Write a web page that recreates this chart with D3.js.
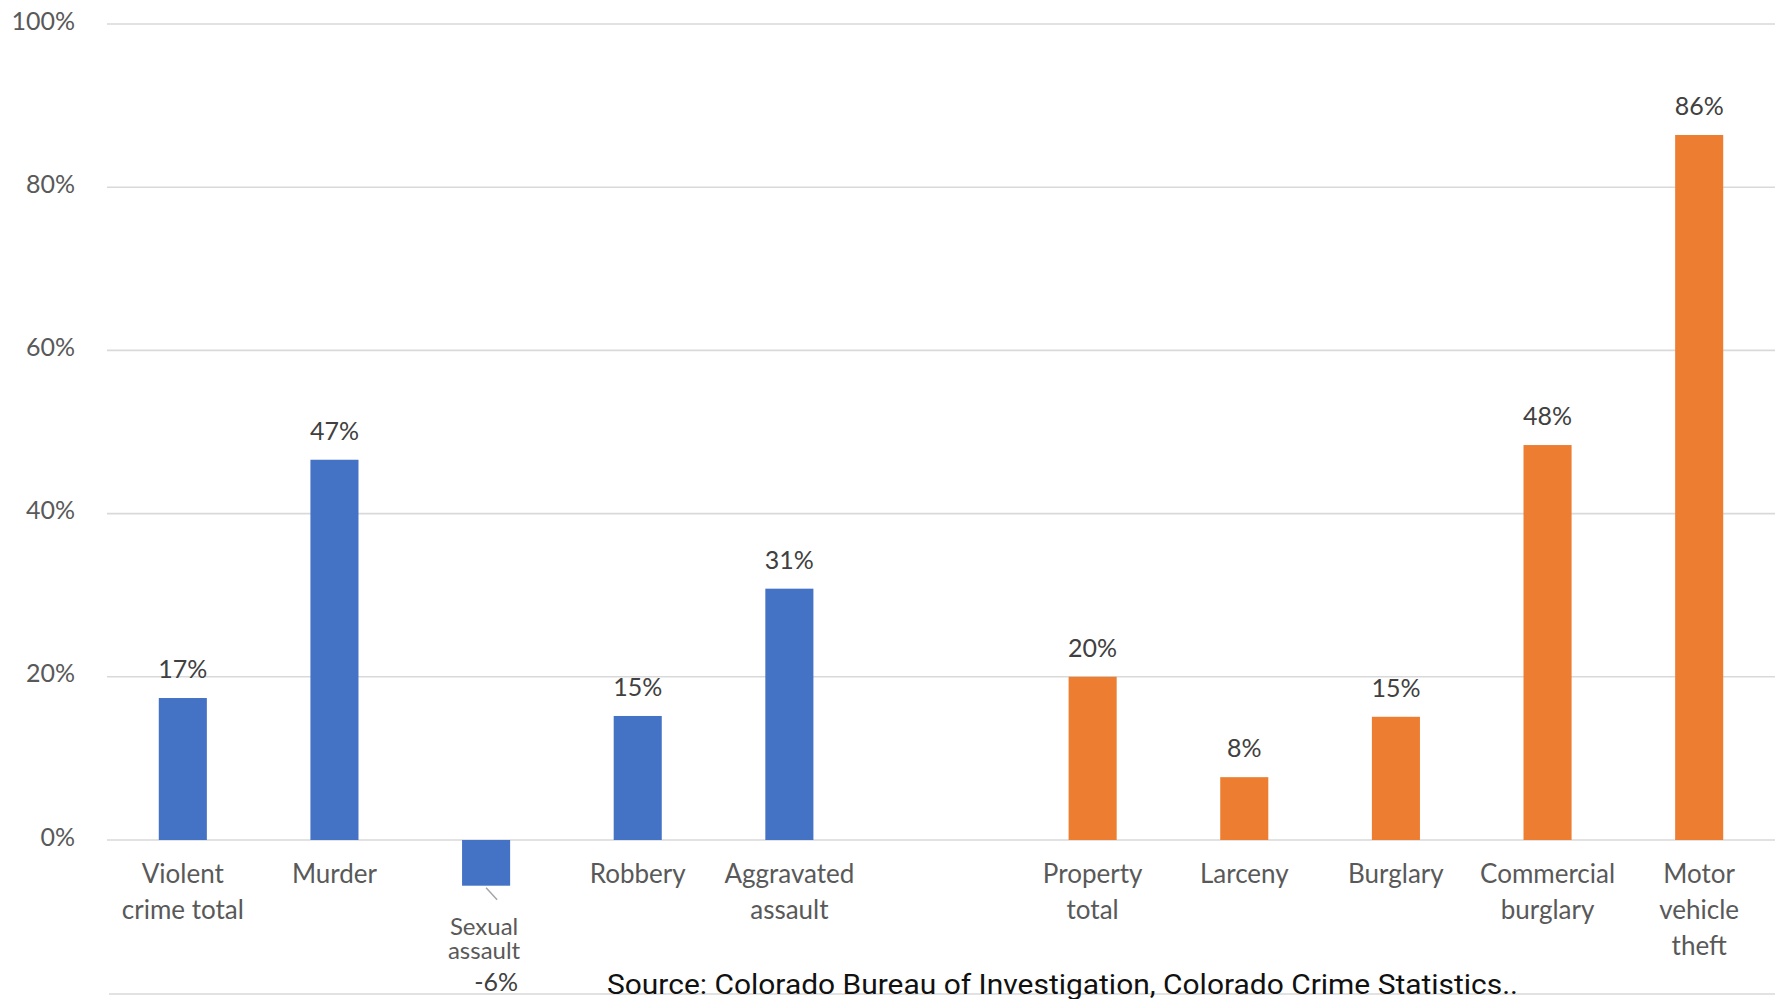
<!DOCTYPE html>
<html>
<head>
<meta charset="utf-8">
<script src="https://cdn.jsdelivr.net/npm/d3@7"></script>
<style>
  body { margin: 0; background: #fff; }
  svg { display: block; font-family: Lato, "Open Sans", sans-serif; }
</style>
</head>
<body>
<svg class="crime-chart" width="1781" height="999"></svg>
<script>
// percent change by offense; the blank slot separates violent and property crime
const categories = ['Violent crime total', 'Murder', 'Sexual assault', 'Robbery', 'Aggravated assault', '',
  'Property total', 'Larceny', 'Burglary', 'Commercial burglary', 'Motor vehicle theft']
const values = [17.4, 46.6, -5.6, 15.2, 30.8, null, 20.0, 7.7, 15.1, 48.4, 86.4]
const groups = ['violent', 'violent', 'violent', 'violent', 'violent', null,
  'property', 'property', 'property', 'property', 'property']
const tickLines = [['Violent', 'crime total'], ['Murder'], [], ['Robbery'], ['Aggravated', 'assault'], [],
  ['Property', 'total'], ['Larceny'], ['Burglary'], ['Commercial', 'burglary'], ['Motor', 'vehicle', 'theft']]
const yTicks = [0, 20, 40, 60, 80, 100]
const sourceText = 'Source: Colorado Bureau of Investigation, Colorado Crime Statistics..'

const colors = { violent: '#4472c4', property: '#ed7d31' }
const data = categories.map((c, i) => ({ cat: c, value: values[i], group: groups[i], lines: tickLines[i] }))

const svg = d3.select('.crime-chart')
const margin = { top: 24, left: 107, right: 6 }
const width = 1781 - margin.left - margin.right
const height = 816

const x = d3.scaleBand()
  .domain(categories)
  .range([0, width])
  .paddingInner(0.683)
  .paddingOuter(0.3415)

const y = d3.scaleLinear()
  .domain([0, 100])
  .range([height, 0])

const g = svg.append('g').attr('transform', 'translate(' + margin.left + ',' + margin.top + ')')

// gridlines
g.append('g')
  .selectAll('line')
  .data(yTicks)
  .join('line')
  .attr('x1', 0)
  .attr('x2', width)
  .attr('y1', d => y(d))
  .attr('y2', d => y(d))
  .attr('stroke', '#d9d9d9')
  .attr('stroke-width', 1.6)

// y axis labels
const yAxis = g.append('g')
  .call(d3.axisLeft(y).tickValues(yTicks).tickSize(0).tickPadding(32).tickFormat(d => d + '%'))
yAxis.select('.domain').remove()
yAxis.selectAll('text')
  .attr('fill', '#595959')
  .style('font-size', '25px')
  .style('font-family', 'Lato, sans-serif')
  .attr('dy', '0.2em')

// bars
g.append('g')
  .selectAll('rect')
  .data(data.filter(d => d.value !== null))
  .join('rect')
  .attr('x', d => x(d.cat))
  .attr('width', x.bandwidth())
  .attr('y', d => y(Math.max(0, d.value)))
  .attr('height', d => Math.abs(y(d.value) - y(0)))
  .attr('fill', d => colors[d.group])

// data labels above positive bars
g.append('g')
  .selectAll('text')
  .data(data.filter(d => d.value !== null && d.value >= 0))
  .join('text')
  .attr('x', d => x(d.cat) + x.bandwidth() / 2)
  .attr('y', d => y(d.value) - 20)
  .attr('text-anchor', 'middle')
  .attr('fill', '#404040')
  .style('font-size', '25px')
  .text(d => Math.round(d.value) + '%')

// the negative bar gets a label moved below with a leader line
const neg = data.filter(d => d.value !== null && d.value < 0)
neg.forEach(d => {
  const cx = x(d.cat) + x.bandwidth() / 2
  const by = y(d.value)
  g.append('line')
    .attr('x1', cx).attr('y1', by + 2)
    .attr('x2', cx + 11).attr('y2', by + 14)
    .attr('stroke', '#a6a6a6')
    .attr('stroke-width', 1.5)
  const words = d.cat.split(' ')
  const t = g.append('text')
    .attr('text-anchor', 'middle')
    .attr('fill', '#595959')
    .style('font-size', '24px')
  words.forEach((w, i) => {
    t.append('tspan').attr('x', cx - 2).attr('y', by + 49 + i * 24).text(w)
  })
  g.append('text')
    .attr('x', cx + 10)
    .attr('y', by + 105)
    .attr('text-anchor', 'middle')
    .attr('fill', '#404040')
    .style('font-size', '25px')
    .text(Math.round(d.value) + '%')
})

// category axis
const xAxis = g.append('g')
  .attr('transform', 'translate(0,' + height + ')')
  .call(d3.axisBottom(x).tickSize(0).tickFormat(''))
xAxis.select('.domain').remove()
xAxis.selectAll('.tick').each(function (cat, i) {
  const t = d3.select(this).append('text')
    .attr('text-anchor', 'middle')
    .attr('fill', '#595959')
    .style('font-size', '26px')
    .style('font-family', 'Lato, sans-serif')
  data[i].lines.forEach((line, j) => {
    t.append('tspan').attr('x', 0).attr('y', 43 + j * 36).text(line)
  })
})

// bottom rule and source note
svg.append('line')
  .attr('x1', margin.left + 2)
  .attr('x2', margin.left + width)
  .attr('y1', 994)
  .attr('y2', 994)
  .attr('stroke', '#d9d9d9')
  .attr('stroke-width', 1.6)

svg.append('text')
  .attr('x', 607)
  .attr('y', 994)
  .attr('fill', '#111')
  .attr('textLength', 911)
  .attr('lengthAdjust', 'spacingAndGlyphs')
  .style('font-family', 'Roboto, "Liberation Sans", sans-serif')
  .style('font-size', '27px')
  .text(sourceText)
</script>
</body>
</html>
